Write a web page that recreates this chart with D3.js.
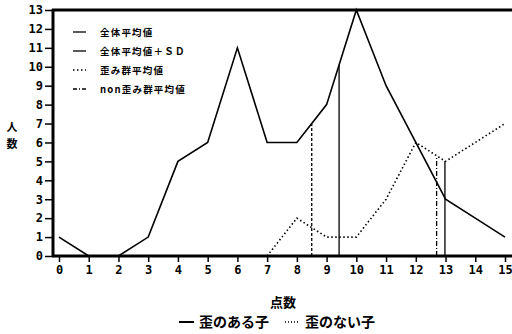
<!DOCTYPE html>
<html><head><meta charset="utf-8">
<script src="https://cdn.jsdelivr.net/npm/d3@7"></script>
<style>body{margin:0;background:#fff}svg{display:block}</style>
</head><body>
<svg id="c" width="512" height="334"></svg>
<script>
const scores = d3.range(0, 16);
const withDistortion = [1,0,0,1,5,6,11,6,6,8,13,9,6,3,2,1];
const withoutDistortionX = [7,8,9,10,11,12,13,14,15];
const withoutDistortion = [0,2,1,1,3,6,5,6,7];
const yTicks = d3.range(0, 14);
const legendLabels = ["全体平均値","全体平均値＋ＳＤ","歪み群平均値","non歪み群平均値"];
const legendDash = [null, null, "1.5,2.5", "4,2,1,2"];
const refLines = [
  {x: 9.42, dash: null},
  {x: 12.98, dash: null},
  {x: 8.5, dash: "3,2"},
  {x: 12.7, dash: "5,2,1,2"}
];
const bottomLegend = ["歪のある子","歪のない子"];

const svg = d3.select("#c");
const x = d3.scaleLinear().domain([0,15]).range([59,505]);
const y = d3.scaleLinear().domain([0,13]).range([256,10]);
const mono = "'DejaVu Sans Mono', monospace";
const jp = "'Noto Sans CJK JP', sans-serif";

// axes
const ya = svg.append("g").attr("transform","translate(53,0)")
  .call(d3.axisLeft(y).tickValues(yTicks).tickFormat(d3.format("d")).tickSize(8).tickPadding(2).tickSizeOuter(0));
ya.select(".domain").remove();
ya.selectAll("line").attr("stroke","#000").attr("stroke-width",1.5);
ya.selectAll("text").attr("font-family",mono).attr("font-weight","bold").attr("font-size",12).attr("fill","#000");

const xa = svg.append("g").attr("transform","translate(0,256)")
  .call(d3.axisBottom(x).tickValues(scores).tickFormat(d3.format("d")).tickSize(6).tickPadding(3).tickSizeOuter(0));
xa.select(".domain").remove();
xa.selectAll("line").attr("stroke","#000").attr("stroke-width",1.5);
xa.selectAll("text").attr("font-family",mono).attr("font-weight","bold").attr("font-size",12).attr("fill","#000");

svg.append("line").attr("x1",53).attr("x2",53).attr("y1",9).attr("y2",257).attr("stroke","#000").attr("stroke-width",3);
svg.append("line").attr("x1",52).attr("x2",512).attr("y1",256).attr("y2",256).attr("stroke","#000").attr("stroke-width",3);
svg.append("line").attr("x1",52).attr("x2",512).attr("y1",10).attr("y2",10).attr("stroke","#000").attr("stroke-width",3);

// series
const line = d3.line().x(d=>x(d[0])).y(d=>y(d[1]));
const s1 = scores.map((s,i)=>[s, withDistortion[i]]);
const s2 = withoutDistortionX.map((s,i)=>[s, withoutDistortion[i]]);
svg.append("path").attr("d",line(s1)).attr("fill","none").attr("stroke","#000").attr("stroke-width",1.6);
svg.append("path").attr("d",line(s2)).attr("fill","none").attr("stroke","#000").attr("stroke-width",1.6).attr("stroke-dasharray","1.5,2.5");

function interp(arrX, arrY, v){
  for(let i=0;i<arrX.length-1;i++){
    if(v>=arrX[i] && v<=arrX[i+1]){
      const t=(v-arrX[i])/(arrX[i+1]-arrX[i]);
      return arrY[i]+t*(arrY[i+1]-arrY[i]);
    }
  }
  return 0;
}
refLines.forEach(r=>{
  const top = Math.max(interp(scores, withDistortion, r.x), interp(withoutDistortionX, withoutDistortion, r.x));
  svg.append("line").attr("x1",x(r.x)).attr("x2",x(r.x)).attr("y1",y(0)).attr("y2",y(top))
    .attr("stroke","#000").attr("stroke-width",1.3).attr("stroke-dasharray",r.dash);
});

// legend
legendLabels.forEach((t,i)=>{
  const yy = 32 + i*19;
  svg.append("line").attr("x1",73).attr("x2",86).attr("y1",yy).attr("y2",yy)
    .attr("stroke","#000").attr("stroke-width",1.3).attr("stroke-dasharray",legendDash[i]);
  svg.append("text").attr("x",100).attr("y",yy+4).text(t)
    .attr("font-family",jp).attr("font-size",9.5).attr("font-weight","bold").attr("letter-spacing",1.2).attr("fill","#000");
});

// y label
svg.append("text").attr("x",12).attr("y",131).text("人").attr("text-anchor","middle")
  .attr("font-family",jp).attr("font-size",11).attr("font-weight","bold");
svg.append("text").attr("x",12).attr("y",148).text("数").attr("text-anchor","middle")
  .attr("font-family",jp).attr("font-size",11).attr("font-weight","bold");

// x label
svg.append("text").attr("x",283).attr("y",307).text("点数").attr("text-anchor","middle")
  .attr("font-family",jp).attr("font-size",13).attr("font-weight","bold");

// bottom legend
svg.append("line").attr("x1",179).attr("x2",194).attr("y1",322).attr("y2",322).attr("stroke","#000").attr("stroke-width",2);
svg.append("text").attr("x",199).attr("y",327).text(bottomLegend[0])
  .attr("font-family",jp).attr("font-size",14).attr("font-weight","bold");
svg.append("line").attr("x1",285).attr("x2",299).attr("y1",322).attr("y2",322).attr("stroke","#000").attr("stroke-width",1.3).attr("stroke-dasharray","1,2");
svg.append("text").attr("x",305).attr("y",327).text(bottomLegend[1])
  .attr("font-family",jp).attr("font-size",14).attr("font-weight","bold");
</script>
</body></html>
